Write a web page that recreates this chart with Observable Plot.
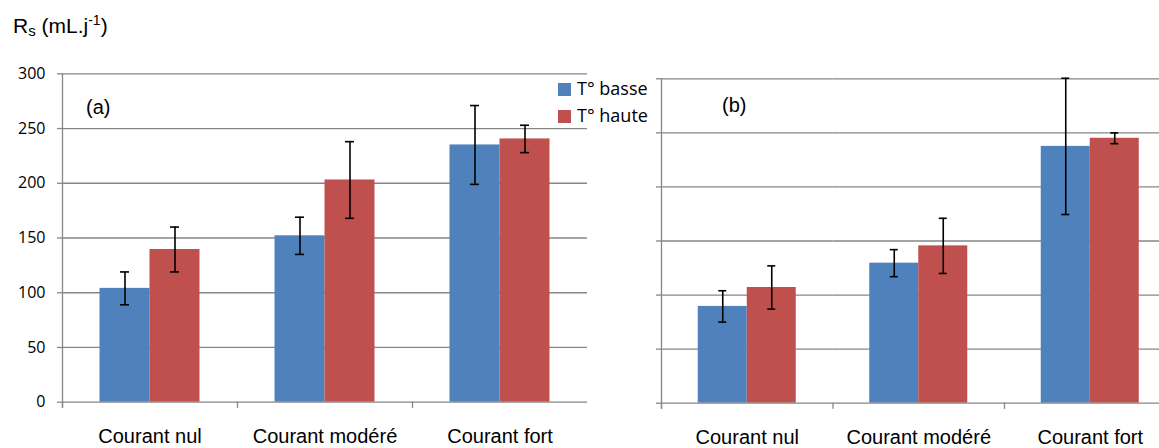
<!DOCTYPE html>
<html><head><meta charset="utf-8">
<script src="https://cdn.jsdelivr.net/npm/d3@7"></script>
<script src="https://cdn.jsdelivr.net/npm/@observablehq/plot@0.6"></script>
<style>
html,body{margin:0;padding:0;background:#fff;overflow:hidden}
#wrap{position:relative;width:1159px;height:448px;overflow:hidden;background:#fff}
#wrap svg{max-width:none !important;height:448px !important}
.abs{position:absolute;white-space:nowrap}
#title{left:13px;top:15px;font-family:"Liberation Sans",Arial,sans-serif;font-size:21px;line-height:21px;color:#000}
#title .sub{font-size:15px;position:relative;top:3px}
#title .sup{font-size:14px;position:relative;top:-8px}
.plab{font-family:"Liberation Sans",Arial,sans-serif;font-size:20px;line-height:20px;color:#000}
.leg{font-family:"Open Sans",sans-serif;font-size:18px;line-height:18px;color:#000}
.sw{position:absolute;width:13px;height:13px}
</style></head><body>
<div id="wrap">
  <div id="left" class="abs" style="left:0;top:0"></div>
  <div id="right" class="abs" style="left:600px;top:0"></div>
  <div id="title" class="abs">R<span class="sub">s</span> (mL.j<span class="sup">-1</span>)</div>
  <div id="la" class="abs plab" style="left:86px;top:97px">(a)</div>
  <div id="lb" class="abs plab" style="left:722px;top:95px">(b)</div>
  <div id="legend"></div>
</div>
<script>
// ---- data ----
const categories = ["Courant nul", "Courant modéré", "Courant fort"];
const series = ["T° basse", "T° haute"];
const colors = ["#4F81BD", "#C0504D"];
const yTicks = [0, 50, 100, 150, 200, 250, 300];

// panel (a)
const aBasse = [104, 152, 235];
const aBasseErr = [15, 17, 36];
const aHaute = [139.5, 203, 240.5];
const aHauteErr = [20.5, 35, 12.5];

// panel (b)
const bBasse = [89.5, 129.5, 237.5];
const bBasseErr = [14.5, 12.5, 63];
const bHaute = [107, 145.5, 245];
const bHauteErr = [20, 25.5, 5];

function rows(basse, basseErr, haute, hauteErr) {
  return categories.flatMap((c, i) => [
    {cat: c, series: series[0], value: basse[i], err: basseErr[i]},
    {cat: c, series: series[1], value: haute[i], err: hauteErr[i]}
  ]);
}

const grid = "#868686";

function panel({data, width, marginLeft, marginRight, marginTop, marginBottom, showLabels}) {
  const height = 448;
  const innerHeight = height - marginTop - marginBottom;
  return Plot.plot({
    width, height, marginLeft, marginRight, marginTop, marginBottom,
    style: {fontFamily: "'Liberation Sans', Arial, sans-serif", background: "transparent", overflow: "visible", maxWidth: "none"},
    fx: {domain: categories, padding: 0, round: false, label: null},
    x: {domain: series, paddingInner: 0, paddingOuter: 0.75, round: false, axis: null},
    y: {domain: [0, 300], label: null},
    color: {domain: series, range: colors},
    marks: [
      Plot.ruleY(yTicks.slice(1), {stroke: grid, strokeWidth: 1.3}),
      Plot.barY(data, {fx: "cat", x: "series", y: "value", fill: "series"}),
      Plot.ruleX(data, {fx: "cat", x: "series", y1: d => d.value - d.err, y2: d => d.value + d.err, stroke: "#000", strokeWidth: 1.6}),
      Plot.tickY(data, {fx: "cat", x: "series", y: d => d.value - d.err, stroke: "#000", strokeWidth: 1.6, insetLeft: 20.5, insetRight: 20.5}),
      Plot.tickY(data, {fx: "cat", x: "series", y: d => d.value + d.err, stroke: "#000", strokeWidth: 1.6, insetLeft: 20.5, insetRight: 20.5}),
      Plot.ruleY([0], {stroke: grid, strokeWidth: 1.3}),
      // category boundary ticks below the baseline
      Plot.frame({anchor: "left", stroke: grid, strokeWidth: 1.3, insetTop: innerHeight, insetBottom: -5}),
      // vertical value-axis line (leftmost facet only)
      Plot.frame({anchor: "left", facetAnchor: "left", stroke: grid, strokeWidth: 1.3, insetBottom: -5}),
      Plot.axisY({ticks: yTicks, tickSize: 5, tickPadding: 12, stroke: grid, strokeWidth: 1.3, fill: "#000",
                  fontSize: 16, fontFamily: "'Open Sans', sans-serif", label: null,
                  tickFormat: showLabels ? (d => String(d)) : (() => "")}),
      Plot.axisFx({anchor: "bottom", tickSize: 0, tickPadding: 27, fontSize: 20, fill: "#000", label: null})
    ]
  });
}

document.getElementById("left").append(panel({
  data: rows(aBasse, aBasseErr, aHaute, aHauteErr),
  width: 600, marginLeft: 62, marginRight: 13, marginTop: 73.3, marginBottom: 46.3, showLabels: true
}));
document.getElementById("right").append(panel({
  data: rows(bBasse, bBasseErr, bHaute, bHauteErr),
  width: 590, marginLeft: 61, marginRight: 14.5, marginTop: 78.3, marginBottom: 45.3, showLabels: false
}));

// legend
const legend = document.getElementById("legend");
series.forEach((s, i) => {
  const sw = document.createElement("div");
  sw.className = "sw";
  sw.style.left = "558px";
  sw.style.top = (83 + i * 26.5) + "px";
  sw.style.background = colors[i];
  legend.append(sw);
  const t = document.createElement("div");
  t.className = "abs leg";
  t.style.left = "577px";
  t.style.top = (79 + i * 26.5) + "px";
  t.textContent = s;
  legend.append(t);
});
</script>
</body></html>
